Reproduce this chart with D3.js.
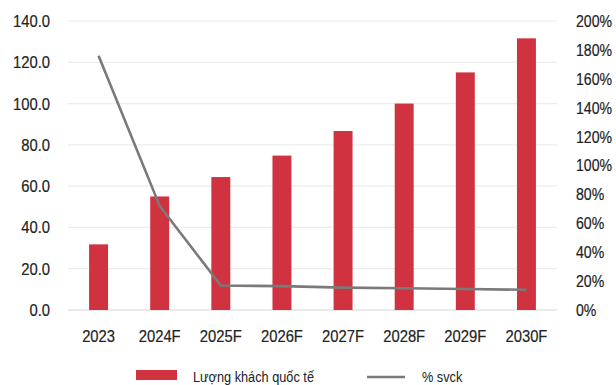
<!DOCTYPE html>
<html>
<head>
<meta charset="utf-8">
<script src="https://cdn.jsdelivr.net/npm/d3@7"></script>
<style>
  html, body { margin: 0; padding: 0; background: #fff; }
  svg { display: block; }
  text { font-family: "Liberation Sans", Arial, sans-serif; fill: #222; }
</style>
</head>
<body>
<svg id="chart" width="616" height="385"></svg>
<script>
// International arrivals (millions) and year-over-year growth
const categories = ["2023", "2024F", "2025F", "2026F", "2027F", "2028F", "2029F", "2030F"];
const arrivals = [31.8, 55.0, 64.4, 74.8, 86.7, 100.0, 115.1, 131.6];
const growthPct = [176, 72, 17, 16.5, 15.5, 15, 14.5, 14];
const leftTicks = [0, 20, 40, 60, 80, 100, 120, 140];
const rightTicks = [0, 20, 40, 60, 80, 100, 120, 140, 160, 180, 200];
const legendLabels = ["Lượng khách quốc tế", "% svck"];

const FONT = '"Liberation Sans", Arial, sans-serif';
const svg = d3.select("#chart");
const plot = { left: 68, right: 557, top: 21, bottom: 310 };

// Condense a text horizontally to imitate a narrow typeface
function condense(sel, k) {
  sel.each(function () {
    const t = d3.select(this);
    const x0 = +t.attr("x") || 0;
    t.attr("x", x0 / k).attr("transform", `scale(${k},1)`);
  });
}

const x = d3.scaleBand().domain(categories).range([plot.left, plot.right]).paddingInner(0.69).paddingOuter(0.345);
const yL = d3.scaleLinear().domain([0, 140]).range([plot.bottom, plot.top]);
const yR = d3.scaleLinear().domain([0, 200]).range([plot.bottom, plot.top]);

// Horizontal gridlines
svg.append("g").selectAll("line").data(leftTicks).join("line")
  .attr("x1", plot.left).attr("x2", plot.right)
  .attr("y1", d => yL(d)).attr("y2", d => yL(d))
  .attr("stroke", d => d === 0 ? "#d6d6d6" : "#ececec").attr("stroke-width", 1.2);

function styleTicks(k) {
  return g => {
    g.select(".domain").remove();
    g.selectAll("text").style("font-size", "17px").style("font-family", FONT)
      .attr("fill", "#222").attr("stroke", "#222").attr("stroke-width", 0.2)
      .call(condense, k);
  };
}

// Left axis
svg.append("g").attr("transform", `translate(${plot.left},0)`)
  .call(d3.axisLeft(yL).tickValues(leftTicks).tickFormat(d3.format(".1f")).tickSize(0).tickPadding(18))
  .call(styleTicks(0.87));

// Right axis
svg.append("g").attr("transform", `translate(${plot.right},0)`)
  .call(d3.axisRight(yR).tickValues(rightTicks).tickFormat(d => d + "%").tickSize(0).tickPadding(19))
  .call(styleTicks(0.83));

// Bottom axis
svg.append("g").attr("transform", `translate(0,${plot.bottom})`)
  .call(d3.axisBottom(x).tickSize(0).tickPadding(20))
  .call(styleTicks(0.87));

// Bars
svg.append("g").selectAll("rect").data(categories).join("rect")
  .attr("x", d => x(d)).attr("width", x.bandwidth())
  .attr("y", (d, i) => yL(arrivals[i]))
  .attr("height", (d, i) => yL(0) - yL(arrivals[i]))
  .attr("fill", "#d0323f");

// Growth line
const line = d3.line()
  .x((d, i) => x(categories[i]) + x.bandwidth() / 2)
  .y(d => yR(d));
svg.append("path").datum(growthPct)
  .attr("d", line).attr("fill", "none")
  .attr("stroke", "#7a7a7a").attr("stroke-width", 2.6);

// Legend
const lg = svg.append("g");
lg.append("rect").attr("x", 136).attr("y", 370).attr("width", 41).attr("height", 10).attr("fill", "#d0323f");
lg.append("text").attr("x", 193).attr("y", 382).style("font-size", "15px").style("font-family", FONT)
  .text(legendLabels[0]).call(condense, 0.85);
lg.append("line").attr("x1", 367).attr("x2", 405).attr("y1", 377).attr("y2", 377)
  .attr("stroke", "#7a7a7a").attr("stroke-width", 2.6);
lg.append("text").attr("x", 422).attr("y", 382).style("font-size", "15px").style("font-family", FONT)
  .text(legendLabels[1]).call(condense, 0.85);
</script>
</body>
</html>
